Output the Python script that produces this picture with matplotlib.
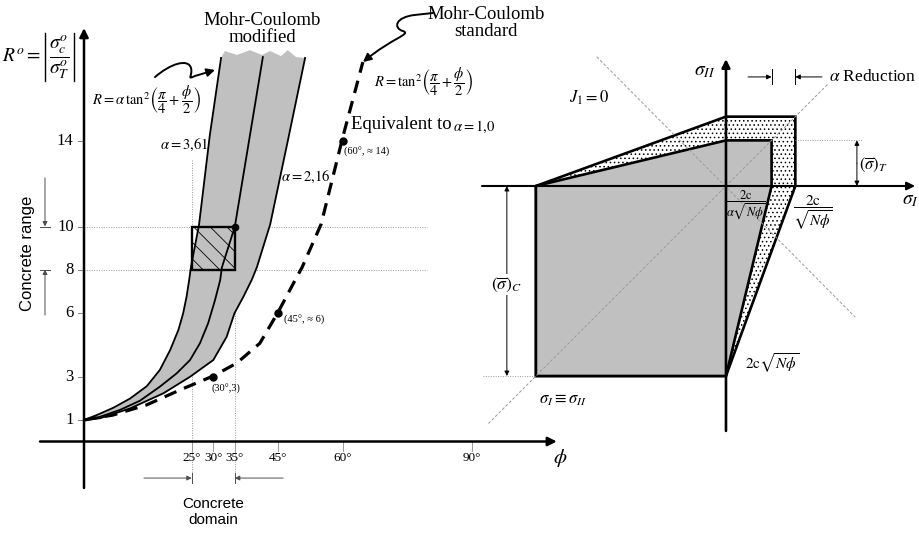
import numpy as np
import matplotlib
matplotlib.use("Agg")
import matplotlib.pyplot as plt
from matplotlib.patches import Polygon, Rectangle, FancyArrowPatch
from matplotlib.path import Path

plt.rcParams["font.family"] = ["Liberation Serif", "DejaVu Serif"]
plt.rcParams["mathtext.fontset"] = "stix"
plt.rcParams["hatch.linewidth"] = 0.6

# ---- left panel: strength ratio R against friction angle phi (deg)
# modified Mohr-Coulomb band (upper edge, middle curve, lower edge)
phi_upper = [0, 2.97, 6.8, 10.7, 14.6, 17.6, 20.0, 21.9, 23.0, 23.8, 24.4, 24.8, 26.7, 29.2, 31.8]
R_upper = [1.0, 1.23, 1.57, 2.0, 2.58, 3.33, 4.26, 5.19, 5.96, 6.74, 7.51, 8.1, 10.1, 14.26, 17.84]

phi_mid = [0, 3.7, 8.35, 13.0, 17.6, 21.5, 24.6, 26.9, 28.8, 30.4, 31.6, 32.0, 35.0, 38.3, 41.5]
R_mid = [1.0, 1.15, 1.47, 1.90, 2.55, 3.17, 3.79, 4.57, 5.50, 6.58, 7.51, 8.1, 10.0, 14.0, 17.88]

phi_lower = [0, 3.7, 10.7, 18.4, 24.6, 30.0, 33.1, 34.9, 37.0, 38.9, 40.1, 43.2, 47.3, 51.3]
R_lower = [1.0, 1.08, 1.54, 2.24, 3.01, 3.79, 4.87, 5.96, 6.74, 7.51, 8.1, 10.1, 14.0, 17.84]

# torn top edge of the band
phi_top = [32.7, 35.5, 38.5, 41.3, 43.2, 45.7, 47.3, 49.2]
R_top = [18.16, 17.98, 18.2, 17.98, 18.16, 17.93, 18.2, 17.88]

# standard Mohr-Coulomb, R = tan^2(pi/4 + phi/2)
phi_std = [0, 6.7, 14.5, 22.3, 30.0, 35.4, 40.8, 45.1, 48.6, 50.6, 55.0, 60.1, 64.7]
R_std = [1.0, 1.23, 1.70, 2.40, 3.05, 3.64, 4.57, 6.04, 7.36, 8.1, 10.1, 14.2, 17.65]

# marked points on the standard curve
phi_pts = [30, 45, 60]
R_pts = [3, 6, 14]
pt_labels = ["(30°,3)", "(45°, ≈ 6)", "(60°, ≈ 14)"]

# concrete domain / range box
phi_box = [25, 35]
R_box = [8, 10]

r_ticks = [1, 3, 6, 8, 10, 14]
phi_ticks = [25, 30, 35, 45, 60, 90]

# ---- right panel: failure surfaces in the sigma_I - sigma_II plane
sig_c = 1.0        # uniaxial compression (normalised)
ft_std = 0.365     # tension, standard  2c / sqrt(N_phi)
ft_mod = 0.24      # tension, modified  2c / (alpha sqrt(N_phi))


def arrow(ax, start, end, lw=1.0, color="k", head=8, style="-|>"):
    ax.annotate("", xy=end, xytext=start,
                arrowprops=dict(arrowstyle=style, lw=lw, color=color,
                                shrinkA=0, shrinkB=0, mutation_scale=head))


fig = plt.figure(figsize=(9.2, 5.34), dpi=100)

axL = fig.add_axes([0, 0, 600 / 920, 1])
axL.set_xlim(-19.49, 119.72)
axL.set_ylim(-4.302, 20.535)
axL.axis("off")

# gray band between the two edge curves
band_x = np.concatenate([phi_upper, phi_top, phi_lower[::-1]])
band_y = np.concatenate([R_upper, R_top, R_lower[::-1]])
axL.add_patch(Polygon(np.column_stack([band_x, band_y]), closed=True,
                      facecolor="#c0c0c0", edgecolor="none", zorder=1))

# dotted guides
grid_kw = dict(color="0.6", lw=0.7, ls=(0, (1, 1.5)), zorder=0.5)
for r in R_box:
    axL.plot([0, 79.6], [r, r], **grid_kw)
axL.plot([phi_box[0]] * 2, [13.1, -1.88], **grid_kw)
axL.plot([phi_box[1]] * 2, [15.93, -1.88], **grid_kw)

axL.plot(phi_upper, R_upper, color="k", lw=1.3, zorder=3)
axL.plot(phi_mid, R_mid, color="k", lw=1.3, zorder=3)
axL.plot(phi_lower, R_lower, color="k", lw=1.3, zorder=3)
axL.plot(phi_std, R_std, color="k", lw=2.3, ls=(0, (4, 2.6)), zorder=3)

axL.add_patch(Rectangle((phi_box[0], R_box[0]), phi_box[1] - phi_box[0],
                        R_box[1] - R_box[0], facecolor="none", edgecolor="k",
                        lw=1.7, hatch="\\\\", zorder=4))

axL.plot(phi_pts, R_pts, "o", color="k", ms=5, zorder=5)
axL.plot([phi_box[1]], [R_box[1]], "o", color="k", ms=4.5, zorder=5)
pt_offsets = [(2.9, -0.56), (6.0, -0.35), (5.6, -0.55)]
for p, r, lab, (dx, dy) in zip(phi_pts, R_pts, pt_labels, pt_offsets):
    axL.text(p + dx, r + dy, lab, fontsize=7.5, ha="center", va="center")

# axes
arrow(axL, (0, -2.16), (0, 19.23), lw=1.8, head=13)
arrow(axL, (-10.2, 0), (109.7, 0), lw=1.8, head=13)

for r in r_ticks:
    axL.plot([-1.4, 0], [r, r], color="0.5", lw=0.7)
    axL.text(-2.4, r, str(r), fontsize=12, ha="right", va="center")
for p in phi_ticks:
    axL.plot([p, p], [0, -0.45], color="0.6", lw=0.7)
    axL.text(p, -0.75, f"{p}°", fontsize=9.5, ha="center", va="center")
axL.text(110.4, -0.75, r"$\phi$", fontsize=15, ha="center", va="center")

# R^o = |sigma_c / sigma_T| with thin absolute-value bars
axL.text(-9.9, 17.88, r"$R^{o}=$", fontsize=14, ha="right", va="center")
axL.text(-5.68, 17.88, r"$\dfrac{\sigma_c^{o}}{\sigma_T^{o}}$", fontsize=14,
         ha="center", va="center")
for x in (-9.05, -2.32):
    axL.plot([x, x], [16.77, 19.0], color="k", lw=1.0)

axL.text(41.3, 19.2, "Mohr-Coulomb\nmodified", fontsize=13.5,
         ha="center", va="center", linespacing=1.0)
axL.text(93.2, 19.45, "Mohr-Coulomb\nstandard", fontsize=13.5,
         ha="center", va="center", linespacing=1.0)

axL.text(14.6, 15.88, r"$R=\alpha\,\tan^2\!\left(\dfrac{\pi}{4}+\dfrac{\phi}{2}\right)$",
         fontsize=10.5, ha="center", va="center")
axL.text(67.3, 16.72, r"$R=\tan^2\!\left(\dfrac{\pi}{4}+\dfrac{\phi}{2}\right)$",
         fontsize=10.5, ha="left", va="center")
axL.text(61.9, 14.75, "Equivalent to", fontsize=13.5, ha="left", va="center")
axL.text(85.6, 14.65, r"$\alpha=1{,}0$", fontsize=10.5, ha="left", va="center")
axL.text(23.2, 13.79, r"$\alpha=3{,}61$", fontsize=10.5, ha="center", va="center")
axL.text(51.5, 12.30, r"$\alpha=2{,}16$", fontsize=10.5, ha="center", va="center")

# curly pointers to the two curve families
squig_mod = Path([(16.47, 16.95), (19.95, 17.56), (24.13, 17.84), (24.83, 17.37),
                  (25.29, 17.0), (23.67, 16.81), (25.75, 17.0), (30.39, 17.28)],
                 [Path.MOVETO, Path.CURVE4, Path.CURVE4, Path.CURVE4,
                  Path.CURVE4, Path.CURVE4, Path.CURVE4, Path.LINETO])
squig_std = Path([(80.97, 19.93), (76.80, 19.84), (72.16, 19.74), (71.69, 19.23),
                  (74.01, 19.09), (76.10, 18.95), (71.46, 18.77), (64.73, 17.65)],
                 [Path.MOVETO, Path.LINETO, Path.CURVE4, Path.CURVE4,
                  Path.CURVE4, Path.CURVE4, Path.CURVE4, Path.CURVE4])
for sp in (squig_mod, squig_std):
    axL.add_patch(FancyArrowPatch(path=sp, arrowstyle="-|>", mutation_scale=12,
                                  lw=1.4, color="k", zorder=6))

# concrete range / domain markers
dim_kw = dict(lw=0.7, color="0.3", head=7)
arrow(axL, (-9.05, 12.26), (-9.05, R_box[1]), **dim_kw)
arrow(axL, (-9.05, 5.88), (-9.05, R_box[0]), **dim_kw)
for r in R_box:
    axL.plot([-10.2, -7.9], [r, r], color="0.3", lw=0.7)
arrow(axL, (13.9, -1.70), (phi_box[0], -1.70), **dim_kw)
arrow(axL, (46.2, -1.70), (phi_box[1], -1.70), **dim_kw)
for p in phi_box:
    axL.plot([p, p], [-1.45, -1.95], color="0.3", lw=0.7)

axL.text(-13.2, 8.77, "Concrete range", fontsize=12, rotation=90,
         family="Liberation Sans", ha="center", va="center")
axL.text(29.9, -3.28, "Concrete\ndomain", fontsize=11, family="Liberation Sans",
         ha="center", va="center", linespacing=1.1)

# ---- right panel
axR = fig.add_axes([470 / 920, 0, 450 / 920, 1])
axR.set_xlim(-1.347, 1.021)
axR.set_ylim(-1.8316, 0.9789)
axR.axis("off")

outer = [(-sig_c, 0), (0, ft_std), (ft_std, ft_std), (ft_std, 0), (0, -sig_c), (-sig_c, -sig_c)]
inner = [(-sig_c, 0), (0, ft_mod), (ft_mod, ft_mod), (ft_mod, 0), (0, -sig_c), (-sig_c, -sig_c)]
axR.add_patch(Polygon(outer, closed=True, facecolor="white", edgecolor="k",
                      hatch="....", lw=1.9, zorder=1))
axR.add_patch(Polygon(inner, closed=True, facecolor="#c0c0c0", edgecolor="k",
                      lw=1.9, zorder=2))

diag_kw = dict(color="0.6", lw=0.7, ls=(0, (3, 2)), zorder=3)
axR.plot([-0.68, 0.68], [0.68, -0.69], **diag_kw)
axR.plot([-1.25, 0.54], [-1.25, 0.54], **diag_kw)

arrow(axR, (-1.284, 0), (0.995, 0), lw=1.5, head=12)
arrow(axR, (0, -1.289), (0, 0.668), lw=1.9, head=12)

axR.text(-0.11, 0.6, r"$\sigma_{II}$", fontsize=14, ha="center", va="center")
axR.text(1.018, -0.075, r"$\sigma_I$", fontsize=14, ha="right", va="center")
axR.text(-0.72, 0.463, r"$J_1=0$", fontsize=12, ha="center", va="center")

# alpha reduction of the tensile strength
arrow(axR, (0.116, 0.574), (ft_mod, 0.574), lw=0.7, head=7)
arrow(axR, (0.505, 0.574), (ft_std, 0.574), lw=0.7, head=7)
for x in (ft_mod, ft_std):
    axR.plot([x, x], [0.535, 0.615], color="k", lw=0.7)
axR.text(0.54, 0.574, r"$\alpha$ Reduction", fontsize=12.5, ha="left", va="center")

# tensile / compressive strength dimensions
axR.plot([ft_std, 0.721], [ft_mod, ft_mod], color="0.6", lw=0.7, ls=(0, (1, 1.5)))
arrow(axR, (0.689, ft_mod / 2), (0.689, ft_mod), lw=0.7, head=7)
arrow(axR, (0.689, ft_mod / 2), (0.689, 0), lw=0.7, head=7)
axR.text(0.70, 0.11, r"$(\overline{\sigma})_T$", fontsize=12, ha="left", va="center")

axR.plot([-1.279, -sig_c], [-sig_c, -sig_c], color="0.6", lw=0.7, ls=(0, (1, 1.5)))
arrow(axR, (-1.153, -0.5), (-1.153, 0), lw=0.7, head=7)
arrow(axR, (-1.153, -0.5), (-1.153, -sig_c), lw=0.7, head=7)
axR.text(-1.153, -0.52, r"$(\overline{\sigma})_C$", fontsize=12.5, ha="center",
         va="center", bbox=dict(facecolor="white", edgecolor="none", pad=1))

axR.text(0.105, -0.1, r"$\dfrac{2\mathrm{c}}{\alpha\sqrt{N\phi}}$", fontsize=9,
         ha="center", va="center", zorder=5)
axR.text(0.455, -0.142, r"$\dfrac{2\mathrm{c}}{\sqrt{N\phi}}$", fontsize=11,
         ha="center", va="center")
axR.text(0.10, -0.932, r"$2\mathrm{c}\sqrt{N\phi}$", fontsize=11, ha="left", va="center")
axR.text(-0.86, -1.126, r"$\sigma_I\equiv\sigma_{II}$", fontsize=12, ha="center", va="center")

fig.savefig("out.png", dpi=100)
